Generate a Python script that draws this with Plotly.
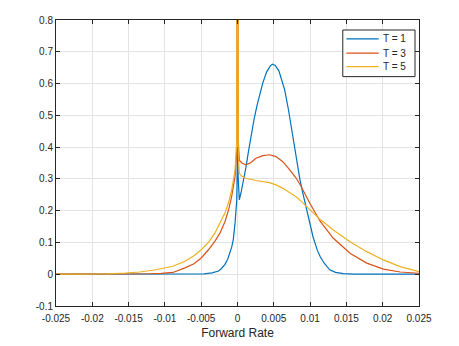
import plotly.graph_objects as go

# forward rate grid and densities for each maturity
x_t1 = [-0.025, -0.01, -0.006, -0.0046, -0.0035, -0.0026, -0.0022, -0.00172, -0.00135,
        -0.00103, -0.0008, -0.00058, -0.00034, -0.0001, 0.0, 0.0001, 0.00025, 0.0005,
        0.00103, 0.00117, 0.0015, 0.00186, 0.0023, 0.0027, 0.0031, 0.0035, 0.004, 0.0045,
        0.0048, 0.0052, 0.0057, 0.006, 0.0065, 0.007, 0.0075, 0.008, 0.0086, 0.009,
        0.0095, 0.01, 0.0104, 0.011, 0.0114, 0.012, 0.0127, 0.0135, 0.0146, 0.016, 0.025]
y_t1 = [0.0, 0.0, 0.0002, 0.001, 0.004, 0.01, 0.018, 0.031, 0.047,
        0.067, 0.085, 0.109, 0.16, 0.234, 0.40, 0.30, 0.234, 0.258,
        0.318, 0.337, 0.385, 0.437, 0.49, 0.532, 0.57, 0.603, 0.636, 0.655,
        0.661, 0.657, 0.64, 0.62, 0.58, 0.52, 0.45, 0.38, 0.298, 0.255,
        0.205, 0.155, 0.118, 0.075, 0.055, 0.033, 0.014, 0.006, 0.002, 0.0005, 0.0]

x_t3 = [-0.025, -0.018, -0.015, -0.012, -0.0105, -0.0089, -0.00723, -0.0066, -0.006,
        -0.005, -0.004, -0.0031, -0.0024, -0.00172, -0.0012, -0.0008, -0.00034, -0.0001,
        0.0, 0.0001, 0.00025, 0.0006, 0.00117, 0.0018, 0.00255, 0.0035, 0.0044, 0.0053,
        0.0062, 0.007, 0.008, 0.0086, 0.009, 0.01, 0.0114, 0.0132, 0.0155, 0.0178,
        0.0201, 0.0224, 0.025]
y_t3 = [0.0, 0.0001, 0.0004, 0.0015, 0.0028, 0.0055, 0.02, 0.026, 0.033,
        0.051, 0.077, 0.104, 0.13, 0.166, 0.205, 0.245, 0.307, 0.39,
        2.5, 0.42, 0.359, 0.35, 0.344, 0.351, 0.365, 0.373, 0.376, 0.37,
        0.355, 0.334, 0.305, 0.283, 0.265, 0.222, 0.166, 0.113, 0.066, 0.035,
        0.016, 0.007, 0.003]

x_t5 = [-0.025, -0.021, -0.018, -0.0155, -0.0135, -0.0112, -0.0089, -0.00723, -0.006,
        -0.005, -0.004, -0.0031, -0.0024, -0.00172, -0.0012, -0.0008, -0.00034, -0.0001,
        0.0, 0.0001, 0.00025, 0.0006, 0.00117, 0.00255, 0.0044, 0.0053, 0.0062, 0.007,
        0.008, 0.0086, 0.0095, 0.01, 0.0114, 0.0132, 0.0155, 0.0178, 0.0201, 0.0224,
        0.025]
y_t5 = [0.0, 0.0004, 0.0012, 0.0035, 0.007, 0.014, 0.025, 0.041, 0.058,
        0.077, 0.1, 0.13, 0.16, 0.193, 0.228, 0.265, 0.328, 0.422,
        2.5, 0.38, 0.318, 0.308, 0.302, 0.295, 0.288, 0.281, 0.271, 0.26,
        0.245, 0.233, 0.213, 0.2, 0.172, 0.139, 0.102, 0.071, 0.045, 0.024,
        0.008]

series_names = ["T = 1", "T = 3", "T = 5"]
series_colors = ["#0072BD", "#D95319", "#EDB120"]

x_ticks = [-0.025, -0.02, -0.015, -0.01, -0.005, 0, 0.005, 0.01, 0.015, 0.02, 0.025]
x_labels = ["-0.025", "-0.02", "-0.015", "-0.01", "-0.005", "0", "0.005", "0.01", "0.015", "0.02", "0.025"]
y_ticks = [-0.1, 0, 0.1, 0.2, 0.3, 0.4, 0.5, 0.6, 0.7, 0.8]
y_labels = ["-0.1", "0", "0.1", "0.2", "0.3", "0.4", "0.5", "0.6", "0.7", "0.8"]

fig = go.Figure()
for xs, ys, name, col in zip([x_t1, x_t3, x_t5], [y_t1, y_t3, y_t5], series_names, series_colors):
    fig.add_trace(go.Scatter(x=xs, y=ys, mode="lines", name=name,
                             line=dict(color=col, width=1.2)))

axis_style = dict(showline=True, linecolor="#262626", linewidth=1, mirror="ticks",
                  ticks="inside", ticklen=4, tickcolor="#262626", automargin=False,
                  showgrid=True, gridcolor="#e3e3e3", gridwidth=1, zeroline=False,
                  tickfont=dict(size=10, color="#262626"))

fig.update_xaxes(range=[-0.025, 0.025], tickvals=x_ticks, ticktext=x_labels,
                 ticklabelstandoff=3,
                 title=dict(text="Forward Rate", font=dict(size=12, color="#262626"), standoff=5),
                 **axis_style)
fig.update_yaxes(range=[-0.1, 0.8], tickvals=y_ticks, ticktext=y_labels, **axis_style)

# MATLAB-style compact legend box, top right of the axes
fig.add_shape(type="rect", xref="paper", yref="paper", x0=0.790, x1=0.989, y0=0.802, y1=0.965,
              line=dict(color="#262626", width=1), fillcolor="white", layer="above")
row_y = [0.934, 0.884, 0.837]
for ry, name, col in zip(row_y, series_names, series_colors):
    fig.add_shape(type="line", xref="paper", yref="paper", x0=0.800, x1=0.889, y0=ry, y1=ry,
                  line=dict(color=col, width=1.2), layer="above")
    fig.add_annotation(xref="paper", yref="paper", x=0.895, y=ry, text=name, showarrow=False,
                       xanchor="left", yanchor="middle", font=dict(size=10, color="#262626"))

fig.update_layout(
    width=459, height=346,
    margin=dict(l=56, r=40, t=20, b=40),
    paper_bgcolor="white", plot_bgcolor="white",
    font=dict(family="Liberation Sans, Arial, sans-serif", color="#262626"),
    showlegend=False,
)

# drop the default page margin so the figure sits at the window origin
fig.write_html("out.html", config={"displayModeBar": False},
               post_script="document.body.style.margin='0';")
